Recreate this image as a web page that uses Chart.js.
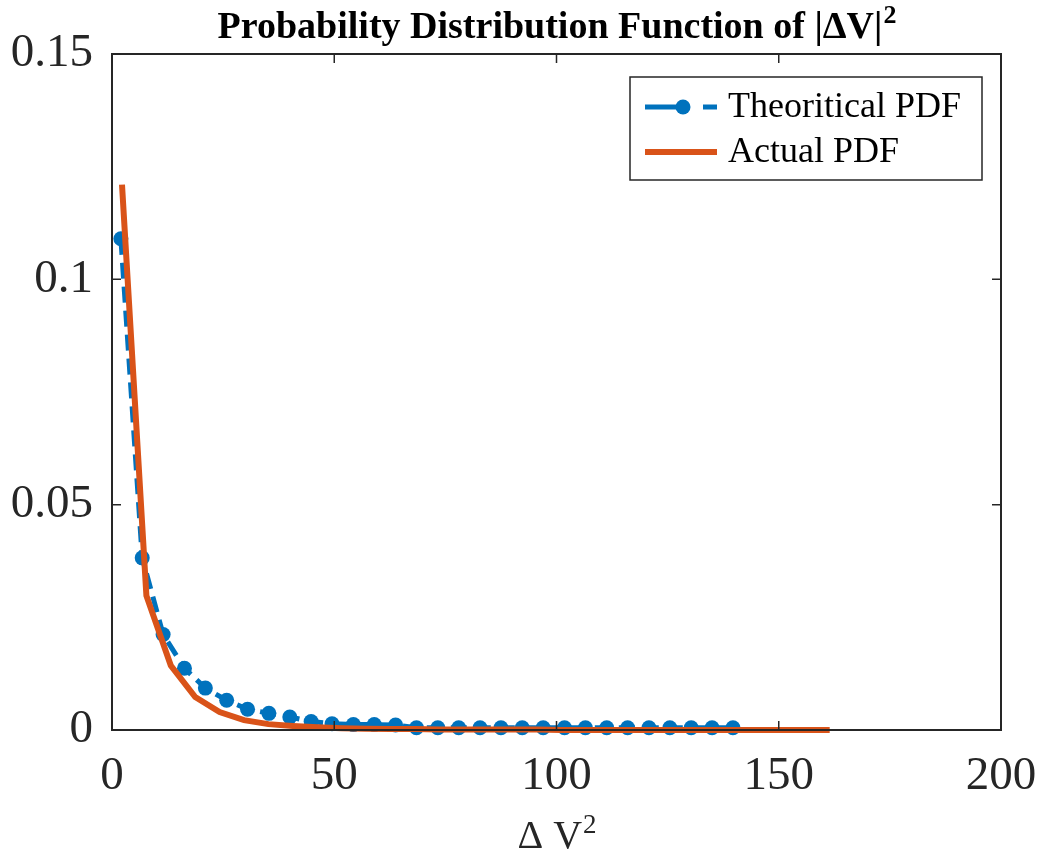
<!DOCTYPE html>
<html>
<head>
<meta charset="utf-8">
<script src="https://cdn.jsdelivr.net/npm/chart.js@4"></script>
<style>
  html, body { margin: 0; padding: 0; background: #fff; }
  #wrap { width: 1046px; height: 859px; }
</style>
</head>
<body>
<div id="wrap"><canvas id="pdf"></canvas></div>
<script>
// values
const theoX = [2.0, 6.8, 11.5, 16.3, 21.0, 25.8, 30.5, 35.3, 40.0, 44.8,
  49.5, 54.3, 59.0, 63.8, 68.5, 73.3, 78.0, 82.8, 87.5, 92.3,
  97.0, 101.8, 106.5, 111.3, 116.0, 120.8, 125.5, 130.3, 135.0, 139.7];
const theoY = [0.109, 0.0382, 0.0212, 0.0137, 0.0093, 0.0066, 0.0046, 0.0037, 0.0029, 0.0019,
  0.0014, 0.0012, 0.0012, 0.0011, 0.0005, 0.0005, 0.0005, 0.0005, 0.0005, 0.0005,
  0.0005, 0.0005, 0.0005, 0.0005, 0.0005, 0.0005, 0.0005, 0.0005, 0.0005, 0.0005];

const actualX = [2.25, 7.74, 13.23, 18.72, 24.21, 29.7, 35.19, 40.68, 46.17, 51.66,
  57.15, 62.64, 68.13, 73.62, 79.11, 84.6, 90.09, 95.58, 101.07, 106.56,
  112.05, 117.54, 123.03, 128.52, 134.01, 139.5, 144.99, 150.48, 155.97, 161.46];
const actualY = [0.121, 0.0298, 0.0143, 0.0073, 0.004, 0.0022, 0.0013, 0.0009, 0.0006, 0.0004,
  0.0003, 0.0002, 0.0002, 0.0001, 0.0001, 0.0001, 0.0001, 0.0001, 0, 0,
  0, 0, 0, 0, 0, 0, 0, 0, 0, 0];

const xTicks = [0, 50, 100, 150, 200];
const yTicks = [0, 0.05, 0.1, 0.15];

const titleText = 'Probability Distribution Function of |\u0394V|';
const xLabel = '\u0394 V';
const legendNames = ['Theoritical PDF', 'Actual PDF'];

const BLUE = '#0072BD';
const RED = '#D95319';
const AXIS = '#262626';
const SERIF = "'Liberation Serif', 'Times New Roman', serif";

const toPoints = (xs, ys) => xs.map((x, i) => ({ x: x, y: ys[i] }));

// text with a raised "2" after it, centred on cx
function drawSquared(ctx, text, cx, baseline, font, supFont, rise) {
  ctx.font = font;
  const w1 = ctx.measureText(text).width;
  ctx.font = supFont;
  const w2 = ctx.measureText('2').width;
  const x0 = cx - (w1 + w2) / 2;
  ctx.textAlign = 'left';
  ctx.font = font;
  ctx.fillText(text, x0, baseline);
  ctx.font = supFont;
  ctx.fillText('2', x0 + w1 + 1, baseline - rise);
}

// frame, inward ticks, title, x label and legend, MATLAB style
const matlabDecor = {
  id: 'matlabDecor',
  afterDraw(chart) {
    const ctx = chart.ctx;
    const a = chart.chartArea;
    const xs = chart.scales.x;
    const ys = chart.scales.y;
    const tl = 9;

    ctx.save();
    ctx.strokeStyle = AXIS;
    ctx.lineWidth = 2;
    ctx.strokeRect(a.left, a.top, a.right - a.left, a.bottom - a.top);

    ctx.lineWidth = 1.5;
    ctx.beginPath();
    xTicks.forEach((v) => {
      const px = xs.getPixelForValue(v);
      ctx.moveTo(px, a.bottom); ctx.lineTo(px, a.bottom - tl);
      ctx.moveTo(px, a.top); ctx.lineTo(px, a.top + tl);
    });
    yTicks.forEach((v) => {
      const py = ys.getPixelForValue(v);
      ctx.moveTo(a.left, py); ctx.lineTo(a.left + tl, py);
      ctx.moveTo(a.right, py); ctx.lineTo(a.right - tl, py);
    });
    ctx.stroke();

    // title
    ctx.fillStyle = '#000';
    ctx.textBaseline = 'alphabetic';
    drawSquared(ctx, titleText, (a.left + a.right) / 2, 38,
      'bold 38px ' + SERIF, 'bold 26px ' + SERIF, 15);

    // x axis label
    ctx.fillStyle = AXIS;
    drawSquared(ctx, xLabel, (a.left + a.right) / 2, 848,
      '40px ' + SERIF, '27px ' + SERIF, 15);

    // legend
    const bx = a.right - 371, by = a.top + 23, bw = 352, bh = 103;
    ctx.fillStyle = '#fff';
    ctx.fillRect(bx, by, bw, bh);
    ctx.strokeStyle = AXIS;
    ctx.lineWidth = 1.5;
    ctx.strokeRect(bx, by, bw, bh);

    const y1 = by + 30, y2 = by + 75;
    ctx.strokeStyle = BLUE;
    ctx.lineWidth = 5;
    ctx.setLineDash([38, 20]);
    ctx.beginPath();
    ctx.moveTo(bx + 15, y1); ctx.lineTo(bx + 87, y1);
    ctx.stroke();
    ctx.setLineDash([]);
    ctx.fillStyle = BLUE;
    ctx.beginPath();
    ctx.arc(bx + 53, y1, 7.5, 0, Math.PI * 2);
    ctx.fill();

    ctx.strokeStyle = RED;
    ctx.lineWidth = 6;
    ctx.beginPath();
    ctx.moveTo(bx + 15, y2); ctx.lineTo(bx + 87, y2);
    ctx.stroke();

    ctx.fillStyle = '#000';
    ctx.textAlign = 'left';
    ctx.textBaseline = 'middle';
    ctx.font = '36px ' + SERIF;
    ctx.fillText(legendNames[0], bx + 98, y1 + 1);
    ctx.fillText(legendNames[1], bx + 98, y2 + 1);
    ctx.restore();
  }
};

new Chart(document.getElementById('pdf'), {
  type: 'line',
  data: {
    datasets: [
      {
        label: legendNames[0],
        data: toPoints(theoX, theoY),
        borderColor: BLUE,
        backgroundColor: BLUE,
        borderWidth: 5,
        borderDash: [16, 8],
        pointRadius: 7.5,
        pointHoverRadius: 7.5,
        pointBorderWidth: 0,
        pointBackgroundColor: BLUE,
        tension: 0,
        clip: false,
        order: 2
      },
      {
        label: legendNames[1],
        data: toPoints(actualX, actualY),
        borderColor: RED,
        backgroundColor: RED,
        borderWidth: 6,
        pointRadius: 0,
        tension: 0,
        clip: false,
        order: 1
      }
    ]
  },
  options: {
    responsive: true,
    maintainAspectRatio: false,
    animation: false,
    events: [],
    layout: { padding: { top: 54, right: 45, left: 0, bottom: 0 } },
    plugins: {
      legend: { display: false },
      title: { display: false },
      tooltip: { enabled: false }
    },
    scales: {
      x: {
        type: 'linear',
        min: 0,
        max: 200,
        grid: { display: false },
        border: { display: false },
        afterBuildTicks: (s) => { s.ticks = xTicks.map((v) => ({ value: v })); },
        afterFit: (s) => {
          s.height = 129;
          s.paddingLeft = 0;
          s.paddingRight = 0;
        },
        ticks: {
          color: AXIS,
          padding: 10,
          maxRotation: 0,
          font: { family: SERIF, size: 47 }
        }
      },
      y: {
        type: 'linear',
        min: 0,
        max: 0.15,
        grid: { display: false },
        border: { display: false },
        afterBuildTicks: (s) => { s.ticks = yTicks.map((v) => ({ value: v })); },
        afterFit: (s) => {
          s.width = 112;
          s.paddingTop = 0;
          s.paddingBottom = 0;
        },
        ticks: {
          color: AXIS,
          padding: 11,
          font: { family: SERIF, size: 47 },
          callback: (v) => String(Math.round(v * 100) / 100)
        }
      }
    }
  },
  plugins: [matlabDecor]
});
</script>
</body>
</html>
